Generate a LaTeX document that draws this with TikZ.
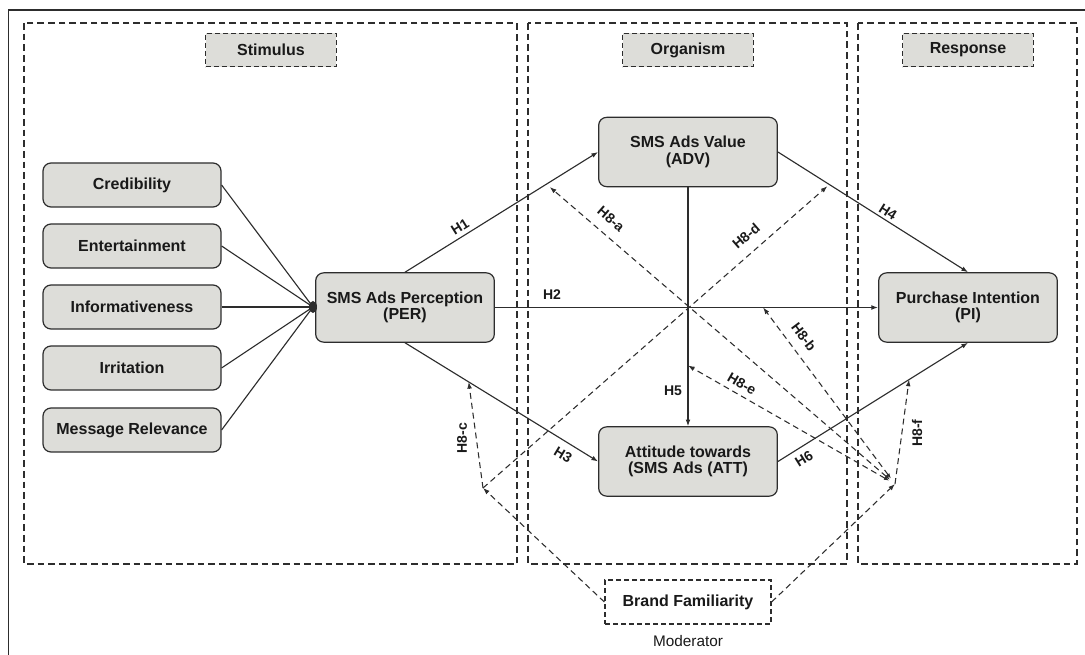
\documentclass[tikz,border=0pt]{standalone}
\usepackage{fontspec}
\setmainfont{Liberation Sans}
\usetikzlibrary{arrows.meta,calc}
\definecolor{boxfill}{RGB}{221,221,217}
\definecolor{ink}{RGB}{45,45,45}
\definecolor{txt}{RGB}{25,25,25}
\tikzset{
  zone/.style={draw=ink, line width=0.9pt, dash pattern=on 5pt off 3pt},
  zonelabel/.style={draw=ink, fill=boxfill, line width=0.9pt, dash pattern=on 4pt off 2pt,
    minimum width=98pt, minimum height=25pt, inner sep=0pt, text=txt,
    font=\fontsize{12}{14}\selectfont\bfseries},
  smallbox/.style={draw=ink, fill=boxfill, line width=0.9pt, rounded corners=6pt,
    minimum width=133.5pt, minimum height=33pt, inner sep=0pt, text=txt,
    font=\fontsize{12}{14}\selectfont\bfseries},
  bigbox/.style={smallbox, minimum width=134pt, minimum height=52pt, align=center,
    font=\fontsize{12}{12.5}\selectfont\bfseries},
  modbox/.style={draw=ink, fill=white, line width=0.9pt, dash pattern=on 4pt off 2pt,
    minimum width=124.5pt, minimum height=33pt, inner sep=0pt, text=txt,
    font=\fontsize{12}{14}\selectfont\bfseries},
  link/.style={draw=ink, line width=0.85pt},
  causal/.style={draw=ink, line width=0.85pt, -{Latex[length=5pt,width=3.6pt]}},
  modpath/.style={draw=ink, line width=0.8pt, dash pattern=on 4.5pt off 3pt,
    -{Latex[length=5pt,width=3.6pt]}},
  twopath/.style={modpath, {Latex[length=4pt,width=3pt]}-{Latex[length=5pt,width=3.6pt]},
    shorten <=5pt},
  hl/.style={text=txt, inner sep=1pt, font=\fontsize{10.5}{12}\selectfont\bfseries},
}
\begin{document}
\begin{tikzpicture}[x=0.75pt, y=-0.75pt]
\useasboundingbox (0,0) rectangle (1085,655);

% outer frame
\draw[ink, line width=1pt] (8.6,655) -- (8.6,10) -- (1085,10);

% zones
\draw[zone] (24,23) rectangle (517,564);
\draw[zone] (528,23) rectangle (847,564);
\draw[zone] (858,23) rectangle (1077,564);

\node[zonelabel] (stim) at (271,50) {Stimulus};
\node[zonelabel] (org)  at (688,50) {Organism};
\node[zonelabel] (resp) at (968,50) {Response};

% stimulus boxes
\node[smallbox] (cred) at (132,185) {Credibility};
\node[smallbox] (ent)  at (132,246) {Entertainment};
\node[smallbox] (inf)  at (132,307) {Informativeness};
\node[smallbox] (irr)  at (132,368) {Irritation};
\node[smallbox] (msg)  at (132,430) {Message Relevance};

% main constructs
\node[bigbox] (per) at (405,307.5) {SMS Ads Perception\\(PER)};
\node[bigbox] (adv) at (688,152) {SMS Ads Value\\(ADV)};
\node[bigbox] (pi)  at (968,307.5) {Purchase Intention\\(PI)};
\node[bigbox] (att) at (688,461.5) {Attitude towards\\(SMS Ads (ATT)};

\node[modbox] (bf) at (688,602) {Brand Familiarity};
\node[text=txt, font=\fontsize{11.5}{13}\selectfont] (modlbl) at (688,641) {Moderator};

% junction
\coordinate (j) at (313,307);
\foreach \b in {cred,ent,inf,irr,msg}{
  \draw[link] (\b.east) -- (j);
}
\fill[ink] (j) ellipse [x radius=4, y radius=6];

% structural paths
\draw[causal] (per.north) -- (adv.west);
\draw[causal] (per.east) -- (pi.west);
\draw[causal] (per.south) -- (att.west);
\draw[causal] (adv.east) -- (pi.north);
\draw[causal] (adv.south) -- (att.north);
\draw[causal] (att.east) -- (pi.south);

\node[hl, rotate=32]  (h1) at (460,227) {H1};
\node[hl]             (h2) at (552,295) {H2};
\node[hl, rotate=-31] (h3) at (563,455) {H3};
\node[hl, rotate=-32] (h4) at (888,212) {H4};
\node[hl]             (h5) at (673,391) {H5};
\node[hl, rotate=32]  (h6) at (804,459) {H6};

% moderation
\coordinate (c1) at (483,488);
\coordinate (c2) at (895,484);
\coordinate (t8a) at ($(per.north)!0.75!(adv.west)+(0,5)$);
\coordinate (t8d) at ($(adv.east)!0.26!(pi.north)+(0,3)$);
\coordinate (t8b) at ($(per.east)!0.70!(pi.west)$);
\coordinate (t8e) at ($(adv.south)!0.746!(att.north)$);
\coordinate (t8c) at ($(per.south)!0.33!(att.west)$);
\coordinate (t8f) at ($(att.east)!0.69!(pi.south)$);

\draw[modpath] (bf.west) -- (c1);
\draw[modpath] (bf.east) -- (c2);
\draw[modpath] (c1) -- (t8c);
\draw[modpath] (c1) -- (t8d);
\draw[twopath] (c2) -- (t8a);
\draw[twopath] (c2) -- (t8b);
\draw[twopath] (c2) -- (t8e);
\draw[modpath] (c2) -- (t8f);

\node[hl, rotate=-41] (h8a) at (611,219) {H8-a};
\node[hl, rotate=41]  (h8d) at (746,236) {H8-d};
\node[hl, rotate=-53] (h8b) at (804,337) {H8-b};
\node[hl, rotate=-30] (h8e) at (742,384) {H8-e};
\node[hl, rotate=90]  (h8c) at (462,438) {H8-c};
\node[hl, rotate=90]  (h8f) at (917,433) {H8-f};
\end{tikzpicture}
\end{document}
